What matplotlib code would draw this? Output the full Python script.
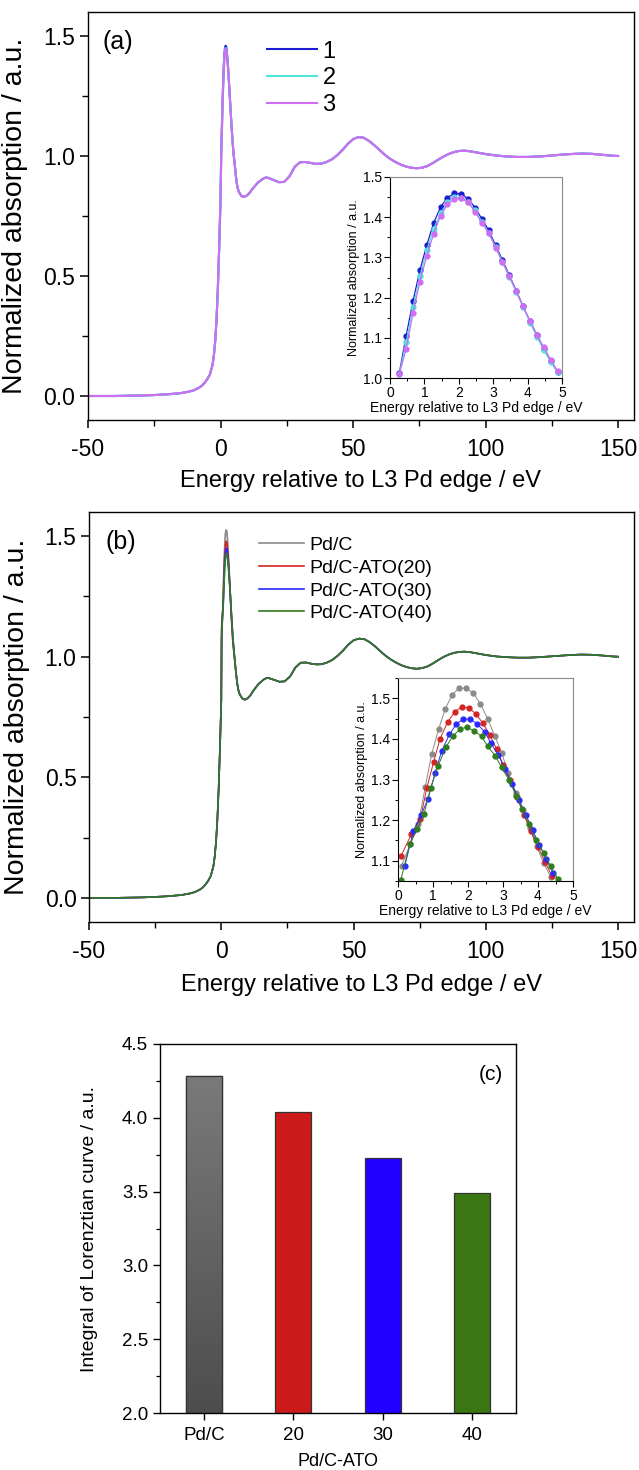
import numpy as np
import matplotlib
matplotlib.use('Agg')
from matplotlib import pyplot as plt
from matplotlib.ticker import MultipleLocator
from matplotlib.colors import LinearSegmentedColormap

plt.rcParams['font.family'] = ['Liberation Sans', 'DejaVu Sans']
plt.rcParams['axes.linewidth'] = 1.0
plt.rcParams['axes.unicode_minus'] = False

# ---------- (a) XANES spectra, three scans ----------
# pre-edge and post-edge part (eV, normalized absorption)
pre_e_a = [-50, -40, -30, -25, -20, -15, -12, -10, -8, -7, -6, -5, -4, -3, -2.5, -2, -1.5, -1, -0.5, 0]
pre_mu_a = [0.0, 0.0, 0.002, 0.004, 0.007, 0.012, 0.018, 0.024, 0.035, 0.043, 0.055, 0.07, 0.09, 0.13,
            0.17, 0.23, 0.32, 0.45, 0.62, 0.82]
post_e_a = [5.5, 6, 6.5, 7, 8, 9, 10, 11, 12, 14, 16, 17, 18, 20, 22, 24, 26, 28, 30, 32, 34, 36, 38, 40,
            42, 44, 46, 48, 50, 52, 54, 56, 58, 60, 62, 64, 66, 68, 70, 72, 74, 76, 78, 80, 82, 84, 86, 88,
            90, 92, 94, 96, 100, 104, 108, 112, 116, 120, 124, 128, 132, 136, 140, 144, 148, 150]
post_mu_a = [0.95, 0.895, 0.865, 0.848, 0.832, 0.83, 0.836, 0.847, 0.862, 0.888, 0.905, 0.91, 0.909, 0.9,
             0.891, 0.892, 0.915, 0.955, 0.974, 0.975, 0.971, 0.967, 0.968, 0.975, 0.986, 1.003, 1.025,
             1.05, 1.07, 1.079, 1.076, 1.063, 1.045, 1.025, 1.005, 0.988, 0.975, 0.964, 0.956, 0.951,
             0.949, 0.951, 0.958, 0.97, 0.984, 0.997, 1.008, 1.016, 1.021, 1.022, 1.02, 1.016, 1.008,
             1.002, 0.998, 0.996, 0.996, 0.998, 1.001, 1.005, 1.008, 1.01, 1.009, 1.005, 1.001, 1.0]

# white line region (inset)
wl_e_a = [0.27, 0.47, 0.67, 0.87, 1.07, 1.27, 1.47, 1.67, 1.87, 2.07, 2.27, 2.47, 2.67, 2.87, 3.07, 3.27,
          3.47, 3.67, 3.87, 4.07, 4.27, 4.47, 4.67, 4.87]
wl_mu_1 = [1.012, 1.105, 1.192, 1.268, 1.331, 1.386, 1.425, 1.449, 1.459, 1.458, 1.446, 1.424, 1.396,
           1.367, 1.330, 1.293, 1.255, 1.217, 1.178, 1.141, 1.106, 1.071, 1.043, 1.015]
wl_mu_2 = [1.010, 1.089, 1.176, 1.253, 1.318, 1.371, 1.410, 1.437, 1.450, 1.449, 1.439, 1.417, 1.389,
           1.361, 1.326, 1.289, 1.251, 1.214, 1.176, 1.138, 1.103, 1.070, 1.041, 1.014]
wl_mu_3 = [1.010, 1.072, 1.162, 1.240, 1.304, 1.359, 1.404, 1.432, 1.445, 1.447, 1.437, 1.414, 1.386,
           1.361, 1.324, 1.288, 1.253, 1.216, 1.178, 1.142, 1.108, 1.076, 1.046, 1.017]
labels_a = ['1', '2', '3']
colors_a = ['#1c1cd0', '#4fe3de', '#cf6ef2']

# ---------- (b) XANES spectra, Pd/C and Pd/C-ATO ----------
pre_e_b = [-50, -40, -30, -25, -20, -15, -12, -10, -8, -7, -6, -5, -4, -3, -2.5, -2, -1.5, -1, -0.5, 0]
pre_mu_b = [0.0, 0.0, 0.002, 0.004, 0.007, 0.012, 0.018, 0.024, 0.035, 0.043, 0.055, 0.07, 0.09, 0.13,
            0.17, 0.23, 0.32, 0.45, 0.62, 0.82]
post_e_b = [5.5, 6, 6.5, 7, 8, 9, 10, 11, 12, 14, 16, 17, 18, 20, 22, 24, 26, 28, 30, 32, 34, 36, 38, 40,
            42, 44, 46, 48, 50, 52, 54, 56, 58, 60, 62, 64, 66, 68, 70, 72, 74, 76, 78, 80, 82, 84, 86, 88,
            90, 92, 94, 96, 100, 104, 108, 112, 116, 120, 124, 128, 132, 136, 140, 144, 148, 150]
post_mu_b = [0.94, 0.89, 0.86, 0.843, 0.826, 0.822, 0.828, 0.84, 0.857, 0.886, 0.905, 0.911, 0.911, 0.904,
             0.896, 0.898, 0.918, 0.955, 0.975, 0.976, 0.971, 0.968, 0.969, 0.976, 0.987, 1.004, 1.025,
             1.05, 1.068, 1.075, 1.073, 1.061, 1.044, 1.024, 1.005, 0.989, 0.976, 0.965, 0.957, 0.952,
             0.95, 0.953, 0.96, 0.972, 0.986, 0.999, 1.009, 1.016, 1.02, 1.021, 1.019, 1.015, 1.007,
             1.001, 0.998, 0.996, 0.996, 0.998, 1.001, 1.004, 1.007, 1.009, 1.008, 1.005, 1.001, 1.0]

wl_e_pdc = [0.10, 0.35, 0.58, 0.78, 0.96, 1.16, 1.35, 1.55, 1.75, 1.95, 2.15, 2.35, 2.56, 2.76, 2.96, 3.15,
            3.36, 3.56, 3.76, 3.96, 4.16, 4.37]
wl_mu_pdc = [1.088, 1.140, 1.190, 1.282, 1.362, 1.424, 1.474, 1.509, 1.525, 1.525, 1.513, 1.487, 1.450,
             1.408, 1.366, 1.316, 1.266, 1.224, 1.180, 1.136, 1.094, 1.059]
wl_e_ato20 = [0.09, 0.38, 0.64, 0.82, 1.02, 1.20, 1.42, 1.63, 1.82, 2.03, 2.22, 2.43, 2.62, 2.82, 3.01,
              3.21, 3.40, 3.60, 3.80, 4.00, 4.20, 4.40]
wl_mu_ato20 = [1.112, 1.165, 1.203, 1.278, 1.344, 1.400, 1.442, 1.467, 1.479, 1.476, 1.462, 1.438, 1.410,
               1.375, 1.335, 1.300, 1.256, 1.212, 1.172, 1.134, 1.097, 1.062]
wl_e_ato30 = [0.19, 0.44, 0.66, 0.86, 1.06, 1.25, 1.47, 1.67, 1.87, 2.06, 2.26, 2.48, 2.65, 2.87, 3.06,
              3.25, 3.46, 3.66, 3.85, 4.04, 4.24, 4.43]
wl_mu_ato30 = [1.086, 1.173, 1.212, 1.253, 1.316, 1.371, 1.411, 1.437, 1.449, 1.449, 1.437, 1.417, 1.390,
               1.360, 1.325, 1.290, 1.250, 1.212, 1.175, 1.138, 1.103, 1.070]
wl_e_ato40 = [0.08, 0.33, 0.55, 0.74, 0.93, 1.15, 1.36, 1.57, 1.77, 1.96, 2.17, 2.39, 2.56, 2.77, 2.96,
              3.17, 3.38, 3.55, 3.75, 3.93, 4.17, 4.36, 4.57]
wl_mu_ato40 = [1.052, 1.140, 1.178, 1.214, 1.279, 1.334, 1.379, 1.407, 1.424, 1.429, 1.420, 1.406, 1.382,
               1.359, 1.330, 1.299, 1.259, 1.227, 1.190, 1.152, 1.119, 1.086, 1.055]
labels_b = ['Pd/C', 'Pd/C-ATO(20)', 'Pd/C-ATO(30)', 'Pd/C-ATO(40)']
colors_b = ['#8a8a8a', '#d42424', '#2a2aff', '#2f7d1c']

# ---------- (c) integral of the Lorentzian ----------
bar_names = ['Pd/C', '20', '30', '40']
bar_values = [4.28, 4.04, 3.73, 3.49]
bar_colors = ['#666666', '#cc1a1a', '#2200ff', '#3a7612']

fig = plt.figure(figsize=(6.39, 14.70), dpi=100)

tick_kw = dict(direction='out', top=False, right=False)


def style_main(ax):
    ax.set_xlim(-50, 156)
    ax.set_ylim(-0.1, 1.6)
    ax.xaxis.set_major_locator(MultipleLocator(50))
    ax.xaxis.set_minor_locator(MultipleLocator(25))
    ax.yaxis.set_minor_locator(MultipleLocator(0.25))
    ax.set_yticks([0.0, 0.5, 1.0, 1.5])
    ax.set_yticklabels(['0.0', '0.5', '1.0', '1.5'])
    ax.tick_params(which='major', length=6, width=1.1, labelsize=16.5, **tick_kw)
    ax.tick_params(which='minor', length=4, width=1.0, **tick_kw)
    ax.tick_params(axis='x', pad=7)
    ax.tick_params(axis='y', pad=3)
    ax.set_xlabel('Energy relative to L3 Pd edge / eV', fontsize=17)
    ax.set_ylabel('Normalized absorption / a.u.', fontsize=20.5)


def style_inset(ax, ylim, ymajor):
    ax.set_xlim(0, 5)
    ax.set_ylim(*ylim)
    ax.xaxis.set_major_locator(MultipleLocator(1))
    ax.xaxis.set_minor_locator(MultipleLocator(0.5))
    ax.yaxis.set_major_locator(MultipleLocator(ymajor))
    ax.yaxis.set_minor_locator(MultipleLocator(0.05))
    ax.tick_params(which='major', length=4, width=0.8, labelsize=10, pad=1.5, **tick_kw)
    ax.tick_params(which='minor', length=2.5, width=0.7, **tick_kw)
    for s in ['top', 'right']:
        ax.spines[s].set_color('#8c8c8c')
    for s in ax.spines.values():
        s.set_linewidth(0.8)
    ax.set_xlabel('Energy relative to L3 Pd edge / eV', fontsize=10, labelpad=1)
    ax.set_ylabel('Normalized absorption / a.u.', fontsize=9, labelpad=2)


# ----- panel (a) -----
ax_a = fig.add_axes([88 / 639, 1 - 420 / 1470, 546 / 639, 408 / 1470])
for wl, lab, c in zip([wl_mu_1, wl_mu_2, wl_mu_3], labels_a, colors_a):
    ax_a.plot(pre_e_a + wl_e_a + post_e_a, pre_mu_a + wl + post_mu_a, color=c, lw=1.5, label=lab)
style_main(ax_a)
ax_a.text(0.026, 0.926, '(a)', transform=ax_a.transAxes, fontsize=18, va='center', ha='left')
ax_a.legend(loc='upper left', bbox_to_anchor=(0.328, 0.93), frameon=False, fontsize=17,
            handlelength=2.1, handletextpad=0.25, labelspacing=0.2, borderpad=0, borderaxespad=0)

ins_a = fig.add_axes([390 / 639, 1 - 378 / 1470, 172 / 639, 201 / 1470])
for wl, c in zip([wl_mu_1, wl_mu_2, wl_mu_3], colors_a):
    ins_a.plot(wl_e_a, wl, color=c, lw=0.9, marker='o', ms=3.5, mec=c, mfc=c)
style_inset(ins_a, (1.0, 1.5), 0.1)

# ----- panel (b) -----
ax_b = fig.add_axes([89 / 639, 1 - 922 / 1470, 545 / 639, 410 / 1470])
wl_e_b = [wl_e_pdc, wl_e_ato20, wl_e_ato30, wl_e_ato40]
wl_mu_b = [wl_mu_pdc, wl_mu_ato20, wl_mu_ato30, wl_mu_ato40]
for e, mu, lab, c in zip(wl_e_b, wl_mu_b, labels_b, colors_b):
    ax_b.plot(pre_e_b + e + post_e_b, pre_mu_b + mu + post_mu_b, color=c, lw=1.2, label=lab)
style_main(ax_b)
ax_b.text(0.031, 0.927, '(b)', transform=ax_b.transAxes, fontsize=18, va='center', ha='left')
ax_b.legend(loc='upper left', bbox_to_anchor=(0.312, 0.94), frameon=False, fontsize=14,
            handlelength=2.3, handletextpad=0.3, labelspacing=0.26, borderpad=0, borderaxespad=0)

ins_b = fig.add_axes([398 / 639, 1 - 881 / 1470, 175 / 639, 203 / 1470])
for e, mu, c in zip(wl_e_b, wl_mu_b, colors_b):
    ins_b.plot(e, mu, color=c, lw=0.7, marker='o', ms=3.5, mec=c, mfc=c)
style_inset(ins_b, (1.05, 1.55), 0.1)

# ----- panel (c) -----
ax_c = fig.add_axes([160 / 639, 1 - 1413 / 1470, 356 / 639, 369 / 1470])
pos = np.arange(len(bar_names))
bars = ax_c.bar(pos, bar_values, width=0.4, color=bar_colors, edgecolor='#333333', linewidth=0.9, zorder=2)
# grey gradient on the Pd/C bar
grey_cmap = LinearSegmentedColormap.from_list('greys', ['#4d4d4d', '#7a7a7a'])
b0 = bars[0]
img = ax_c.imshow(np.linspace(0, 1, 256).reshape(-1, 1), cmap=grey_cmap, origin='lower', aspect='auto',
                  extent=[b0.get_x(), b0.get_x() + b0.get_width(), 2.0, b0.get_height()], zorder=2.5)
img.set_clip_path(b0)
ax_c.bar(pos[:1], bar_values[:1], width=0.4, fill=False, edgecolor='#333333', linewidth=0.9, zorder=3)
ax_c.set_xlim(-0.49, 3.49)
ax_c.set_ylim(2.0, 4.5)
ax_c.set_xticks(pos)
ax_c.set_xticklabels(bar_names)
ax_c.yaxis.set_major_locator(MultipleLocator(0.5))
ax_c.yaxis.set_minor_locator(MultipleLocator(0.25))
ax_c.tick_params(which='major', length=5, width=1.0, labelsize=13.5, **tick_kw)
ax_c.tick_params(which='minor', length=3, width=0.9, **tick_kw)
ax_c.tick_params(axis='x', pad=5)
ax_c.set_xlabel('Pd/C-ATO', fontsize=13)
ax_c.set_ylabel('Integral of Lorenztian curve / a.u.', fontsize=14)
ax_c.text(0.963, 0.916, '(c)', transform=ax_c.transAxes, fontsize=15, va='center', ha='right')

ax_a.yaxis.set_label_coords(-0.11, 0.5)
ax_b.yaxis.set_label_coords(-0.108, 0.5)
ax_a.xaxis.set_label_coords(0.5, -0.122)
ax_b.xaxis.set_label_coords(0.5, -0.126)
ax_c.yaxis.set_label_coords(-0.174, 0.5)
ax_c.xaxis.set_label_coords(0.5, -0.108)

fig.savefig('out.png', dpi=100)
